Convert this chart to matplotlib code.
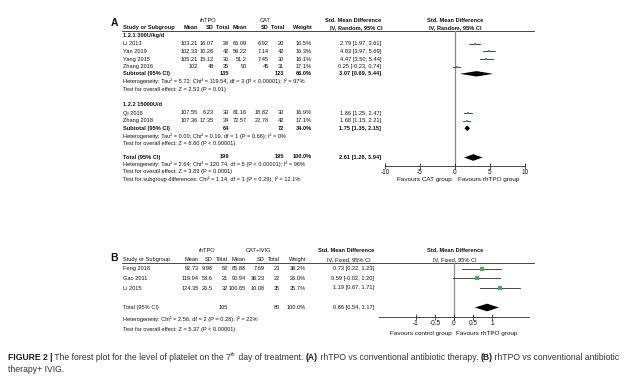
import matplotlib
matplotlib.use("Agg")
import matplotlib.pyplot as plt

plt.rcParams["font.family"] = ["Liberation Sans", "DejaVu Sans"]

# ---------------- data: panel A ----------------
a_g1_label = "1.2.1 300U/kg/d"
a_g1_names = ["Li 2013", "Yan 2019", "Yang 2015", "Zhang 2016"]
a_g1_t_mean = [103.21, 102.33, 105.21, 102]
a_g1_t_sd = [16.07, 10.28, 15.12, 48]
a_g1_t_n = [28, 42, 30, 35]
a_g1_c_mean = [66.09, 59.22, 51.2, 90]
a_g1_c_sd = [6.92, 7.14, 7.45, 45]
a_g1_c_n = [20, 42, 30, 31]
a_g1_w = [16.5, 16.3, 16.1, 17.1]
a_g1_smd = [2.79, 4.83, 4.47, 0.25]
a_g1_lo = [1.97, 3.97, 3.50, -0.23]
a_g1_hi = [3.61, 5.69, 5.44, 0.74]
a_g1_sub = (135, 123, 66.0, 3.07, 0.69, 5.44)
a_g1_notes = ["Heterogeneity: Tau² = 5.72; Chi² = 119.54, df = 3 (P < 0.00001); I² = 97%",
              "Test for overall effect: Z = 2.53 (P = 0.01)"]

a_g2_label = "1.2.2 15000U/d"
a_g2_names = ["Qi 2016", "Zhang 2018"]
a_g2_t_mean = [107.55, 107.36]
a_g2_t_sd = [6.23, 17.35]
a_g2_t_n = [30, 34]
a_g2_c_mean = [81.16, 72.57]
a_g2_c_sd = [18.82, 22.78]
a_g2_c_n = [30, 42]
a_g2_w = [16.9, 17.1]
a_g2_smd = [1.86, 1.68]
a_g2_lo = [1.25, 1.15]
a_g2_hi = [2.47, 2.21]
a_g2_sub = (64, 72, 34.0, 1.75, 1.35, 2.15)
a_g2_notes = ["Heterogeneity: Tau² = 0.00; Chi² = 0.19, df = 1 (P = 0.66); I² = 0%",
              "Test for overall effect: Z = 8.60 (P < 0.00001)"]

a_total = (199, 195, 100.0, 2.61, 1.28, 3.94)
a_total_notes = ["Heterogeneity: Tau² = 2.64; Chi² = 120.74, df = 5 (P < 0.00001); I² = 96%",
                 "Test for overall effect: Z = 3.83 (P = 0.0001)",
                 "Test for subgroup differences: Chi² = 1.14, df = 1 (P = 0.29), I² = 12.1%"]
a_ticks = [-10, -5, 0, 5, 10]

# ---------------- data: panel B ----------------
b_names = ["Feng 2018", "Gao 2011", "Li 2015"]
b_t_mean = [92.73, 119.94, 124.35]
b_t_sd = [9.98, 58.6, 26.5]
b_t_n = [52, 21, 32]
b_c_mean = [85.88, 90.94, 100.65]
b_c_sd = [7.69, 36.23, 10.08]
b_c_n = [23, 22, 35]
b_w = [38.2, 26.0, 35.7]
b_smd = [0.73, 0.59, 1.19]
b_lo = [0.22, -0.02, 0.67]
b_hi = [1.23, 1.20, 1.71]
b_total = (105, 80, 100.0, 0.86, 0.54, 1.17)
b_notes = ["Heterogeneity: Chi² = 2.56, df = 2 (P = 0.28); I² = 22%",
           "Test for overall effect: Z = 5.37 (P < 0.00001)"]
b_ticks = [-1, -0.5, 0, 0.5, 1]

TXT = "#111111"
LINE = "#2a2a2a"
GREEN_A = "#3aa66a"
GREEN_B = "#3cb54a"
FS = 4.1

W, H = 630, 382
fig = plt.figure(figsize=(W / 100, H / 100), dpi=100, facecolor="white")
ax = fig.add_axes([0, 0, 1, 1])
ax.set_xlim(0, W)
ax.set_ylim(H, 0)
ax.set_axis_off()


def t(x, y, s, ha="left", bold=False, fs=FS, color=TXT):
    return ax.text(x, y, s, ha=ha, va="center", fontsize=fs,
                   fontweight="bold" if bold else "normal", color=color)


def fmt_ci(m, lo, hi):
    return f"{m:.2f} [{lo:.2f}, {hi:.2f}]"


def forest_axes(x0, x1, y0, y1, xlim, ticks):
    fa = fig.add_axes([x0 / W, 1 - y1 / H, (x1 - x0) / W, (y1 - y0) / H])
    fa.set_xlim(*xlim)
    fa.set_ylim(y1, y0)
    fa.patch.set_alpha(0)
    for s in ["top", "right", "left"]:
        fa.spines[s].set_visible(False)
    fa.spines["bottom"].set_color(LINE)
    fa.spines["bottom"].set_linewidth(0.6)
    fa.set_yticks([])
    fa.set_xticks(ticks)
    fa.set_xticklabels([f"{v:g}" for v in ticks])
    fa.tick_params(axis="x", direction="inout", length=4, width=0.6, colors=LINE,
                   labelsize=FS + 0.6, pad=0.5, labelcolor=TXT)
    fa.axvline(0, color="#8a8a8a", lw=0.9, zorder=0)
    return fa


def diamond(fa, m, lo, hi, y, h):
    fa.fill([lo, m, hi, m], [y, y - h, y, y + h], color="black", lw=0)


# column positions (right edges)
cols_a = [198, 214, 229, 247, 269, 284, 312, 381]
cols_b = [199, 213, 228, 246, 265, 280, 306, 374]


def study_row(cols, y, name, tm, tsd, tn, cm_, csd, cn, w, m, lo, hi):
    t(123, y, name)
    vals = [f"{tm:g}", f"{tsd:g}", f"{tn}", f"{cm_:g}", f"{csd:g}", f"{cn}", f"{w:.1f}%",
            fmt_ci(m, lo, hi)]
    for x, v in zip(cols, vals):
        t(x, y, v, ha="right")


def total_row(cols, y, label, tot, bold=True):
    tn, cn, w, m, lo, hi = tot
    t(123, y, label, bold=bold)
    t(cols[2], y, f"{tn}", ha="right", bold=bold)
    t(cols[5], y, f"{cn}", ha="right", bold=bold)
    t(cols[6], y, f"{w:.1f}%", ha="right", bold=bold)
    t(cols[7], y, fmt_ci(m, lo, hi), ha="right", bold=bold)


def header(cols, y1, y2, yline, grp_t, grp_c, ct, cc, method, smd_c, bold2=True):
    t(ct, y1, grp_t, ha="center")
    t(cc, y1, grp_c, ha="center")
    t(smd_c, y1, "Std. Mean Difference", ha="center", bold=True)
    t(455, y1, "Std. Mean Difference", ha="center", bold=True)
    t(123, y2, "Study or Subgroup", bold=bold2)
    for x, s in zip(cols[:7], ["Mean", "SD", "Total", "Mean", "SD", "Total", "Weight"]):
        t(x, y2, s, ha="right", bold=bold2)
    t(smd_c + 3, y2, method, ha="center", bold=bold2)
    t(455, y2, method, ha="center", bold=bold2)
    ax.plot([122, 534], [yline, yline], color=LINE, lw=0.6)


# ---------------- panel A ----------------
ax.text(111, 23, "A", fontsize=7.5, fontweight="bold", color=TXT, va="center", ha="left")
header(cols_a, 20, 27.5, 30.5, "rhTPO", "CAT", 208, 265, "IV, Random, 95% CI", 353)

fa = forest_axes(385, 525, 30.5, 166, (-10, 10), a_ticks)

t(123, 35.5, a_g1_label, bold=True)
g1_y = [43.5, 51.3, 59.1, 66.7]
for i, y in enumerate(g1_y):
    study_row(cols_a, y, a_g1_names[i], a_g1_t_mean[i], a_g1_t_sd[i], a_g1_t_n[i],
              a_g1_c_mean[i], a_g1_c_sd[i], a_g1_c_n[i], a_g1_w[i],
              a_g1_smd[i], a_g1_lo[i], a_g1_hi[i])
    fa.plot([a_g1_lo[i], a_g1_hi[i]], [y, y], color=LINE, lw=0.6)
    fa.plot(a_g1_smd[i], y, marker="s", ms=1.6, color=GREEN_A, mew=0)
total_row(cols_a, 73.8, "Subtotal (95% CI)", a_g1_sub)
diamond(fa, a_g1_sub[3], a_g1_sub[4], a_g1_sub[5], 73.8, 2.7)
t(123, 81.5, a_g1_notes[0])
t(123, 89.2, a_g1_notes[1])

t(123, 105, a_g2_label, bold=True)
g2_y = [113, 120.8]
for i, y in enumerate(g2_y):
    study_row(cols_a, y, a_g2_names[i], a_g2_t_mean[i], a_g2_t_sd[i], a_g2_t_n[i],
              a_g2_c_mean[i], a_g2_c_sd[i], a_g2_c_n[i], a_g2_w[i],
              a_g2_smd[i], a_g2_lo[i], a_g2_hi[i])
    fa.plot([a_g2_lo[i], a_g2_hi[i]], [y, y], color=LINE, lw=0.6)
    fa.plot(a_g2_smd[i], y, marker="s", ms=1.6, color=GREEN_A, mew=0)
total_row(cols_a, 128.3, "Subtotal (95% CI)", a_g2_sub)
diamond(fa, a_g2_sub[3], a_g2_sub[4], a_g2_sub[5], 128.3, 2.9)
t(123, 136, a_g2_notes[0])
t(123, 143.7, a_g2_notes[1])

total_row(cols_a, 157, "Total (95% CI)", a_total)
diamond(fa, a_total[3], a_total[4], a_total[5], 157.5, 3.3)
for k, s in enumerate(a_total_notes):
    t(123, 164.5 + 7.5 * k, s)

t(452, 179, "Favours CAT group", ha="right", fs=FS + 0.5)
t(458, 179, "Favours rhTPO group", ha="left", fs=FS + 0.5)

# ---------------- panel B ----------------
ax.text(110, 258, "B", fontsize=7.5, fontweight="bold", color=TXT, va="center", ha="left")
header(cols_b, 250, 259.5, 263, "rhTPO", "CAT+IVIG", 207, 258, "IV, Fixed, 95% CI", 346,
       bold2=False)

fb = forest_axes(379, 529, 263, 317, (-1.95, 1.95), b_ticks)

b_y = [268.5, 278.3, 288]
for i, y in enumerate(b_y):
    study_row(cols_b, y, b_names[i], b_t_mean[i], b_t_sd[i], b_t_n[i],
              b_c_mean[i], b_c_sd[i], b_c_n[i], b_w[i], b_smd[i], b_lo[i], b_hi[i])
    fb.plot([b_lo[i], b_hi[i]], [y, y], color=LINE, lw=0.6)
    fb.plot(b_smd[i], y, marker="s", ms=0.5 * b_w[i] ** 0.5, color=GREEN_B, mew=0)
total_row(cols_b, 307.5, "Total (95% CI)", b_total, bold=False)
diamond(fb, b_total[3], b_total[4], b_total[5], 307.5, 3.8)
t(123, 319, b_notes[0])
t(123, 330, b_notes[1])

t(452, 333, "Favours control group", ha="right", fs=FS + 0.5)
t(456, 333, "Favours rhTPO group", ha="left", fs=FS + 0.5)

# ---------------- caption ----------------
renderer = fig.canvas.get_renderer()
CFS = 6.2
pieces = [("FIGURE 2 |", "bold", 0), (" The forest plot for the level of platelet on the 7", "normal", 0),
          ("th", "normal", 1), (" day of treatment. ", "normal", 0), ("(A)", "bold", 0),
          (" rhTPO vs conventional antibiotic therapy. ", "normal", 0), ("(B)", "bold", 0),
          (" rhTPO vs conventional antibiotic", "normal", 0)]
x = 8
for s, wgt, sup in pieces:
    txt = ax.text(x, 357 - (3 if sup else 0), s, fontsize=CFS * (0.65 if sup else 1),
                  fontweight=wgt, color="#1a1a1a" if wgt == "bold" else "#333333",
                  va="center", ha="left")
    bb = txt.get_window_extent(renderer=renderer)
    x += bb.width
ax.text(8, 370, "therapy+ IVIG.", fontsize=CFS, color="#333333", va="center", ha="left")

fig.savefig("out.png", dpi=100, facecolor="white")
